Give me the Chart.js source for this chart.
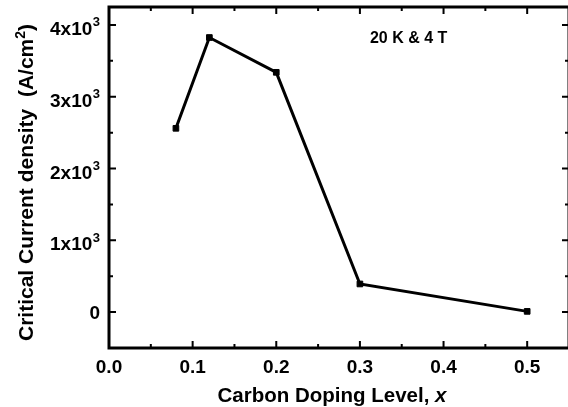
<!DOCTYPE html>
<html>
<head>
<meta charset="utf-8">
<script src="https://cdn.jsdelivr.net/npm/chart.js@4"></script>
<style>
    html, body { margin: 0; padding: 0; background: #fff; overflow: hidden; }
    #wrap { width: 574px; height: 407px; }
</style>
</head>
<body>
<div id="wrap"><canvas id="jcChart" width="574" height="407"></canvas></div>
<script>
// data
const dopingLevel = [0.08, 0.12, 0.2, 0.3, 0.5];
const currentDensity = [2560, 3825, 3340, 392, 10];

// axis ticks
const xTicks = [0.0, 0.1, 0.2, 0.3, 0.4, 0.5];
const xTickLabels = ["0.0", "0.1", "0.2", "0.3", "0.4", "0.5"];
const yTicks = [0, 1000, 2000, 3000, 4000];
const yTickLabels = [["0", ""], ["1x10", "3"], ["2x10", "3"], ["3x10", "3"], ["4x10", "3"]];

const FONT = "'Liberation Sans', Arial, Helvetica, sans-serif";

// draws frame, inward ticks (major + minor) and all the text
const framePlugin = {
    id: "frame",
    afterDraw(chart) {
        const ctx = chart.ctx;
        const { left, right, top, bottom } = chart.chartArea;
        const xs = chart.scales.x;
        const ys = chart.scales.y;
        ctx.save();
        ctx.strokeStyle = "#000";
        ctx.fillStyle = "#000";

        // ticks
        ctx.lineWidth = 2;
        const major = 7, minor = 4;
        ctx.beginPath();
        xTicks.forEach((v, i) => {
            const px = xs.getPixelForValue(v);
            ctx.moveTo(px, bottom); ctx.lineTo(px, bottom - major);
            ctx.moveTo(px, top); ctx.lineTo(px, top + major);
            if (i < xTicks.length - 1) {
                const m = xs.getPixelForValue((v + xTicks[i + 1]) / 2);
                ctx.moveTo(m, bottom); ctx.lineTo(m, bottom - minor);
                ctx.moveTo(m, top); ctx.lineTo(m, top + minor);
            }
        });
        yTicks.forEach((v, i) => {
            const py = ys.getPixelForValue(v);
            ctx.moveTo(left, py); ctx.lineTo(left + major, py);
            ctx.moveTo(right, py); ctx.lineTo(right - major, py);
            if (i < yTicks.length - 1) {
                const m = ys.getPixelForValue((v + yTicks[i + 1]) / 2);
                ctx.moveTo(left, m); ctx.lineTo(left + minor, m);
                ctx.moveTo(right, m); ctx.lineTo(right - minor, m);
            }
        });
        ctx.stroke();

        // frame
        ctx.lineWidth = 3;
        ctx.strokeRect(left, top, right - left, bottom - top);

        // x tick labels
        ctx.font = "bold 19px " + FONT;
        ctx.textAlign = "center";
        ctx.textBaseline = "alphabetic";
        xTicks.forEach((v, i) => {
            ctx.fillText(xTickLabels[i], xs.getPixelForValue(v), bottom + 25);
        });

        // y tick labels with superscript
        ctx.textAlign = "left";
        yTicks.forEach((v, i) => {
            const py = ys.getPixelForValue(v);
            const [base, sup] = yTickLabels[i];
            ctx.font = "bold 13px " + FONT;
            const supW = sup ? ctx.measureText(sup).width : 0;
            ctx.font = "bold 19px " + FONT;
            const baseW = ctx.measureText(base).width;
            const xEnd = left - 9;
            const baseline = sup ? py + 10 : py + 6.5;
            ctx.fillText(base, xEnd - supW - baseW - (sup ? 0.5 : 0), baseline);
            if (sup) {
                ctx.font = "bold 13px " + FONT;
                ctx.fillText(sup, xEnd - supW, baseline - 8.5);
            }
        });

        // x axis title, "x" in italic
        const t1 = "Carbon Doping Level, ";
        const t2 = "x";
        ctx.font = "bold 20.5px " + FONT;
        const w1 = ctx.measureText(t1).width;
        ctx.font = "italic bold 20.5px " + FONT;
        const w2 = ctx.measureText(t2).width;
        const tx = (left + right) / 2 - 7 - (w1 + w2) / 2;
        ctx.font = "bold 20.5px " + FONT;
        ctx.fillText(t1, tx, 401.5);
        ctx.font = "italic bold 20.5px " + FONT;
        ctx.fillText(t2, tx + w1, 401.5);

        // y axis title, rotated, with superscript 2
        const a = "Critical Current density  (A/cm";
        const s = "2";
        const c = ")";
        ctx.save();
        ctx.translate(33, (top + bottom) / 2 + 5);
        ctx.rotate(-Math.PI / 2);
        ctx.font = "bold 21px " + FONT;
        const wa = ctx.measureText(a).width;
        const wc = ctx.measureText(c).width;
        ctx.font = "bold 14px " + FONT;
        const ws = ctx.measureText(s).width;
        let sx = -(wa + ws + wc) / 2;
        ctx.font = "bold 21px " + FONT;
        ctx.fillText(a, sx, 0);
        ctx.font = "bold 14px " + FONT;
        ctx.fillText(s, sx + wa, -8.5);
        ctx.font = "bold 21px " + FONT;
        ctx.fillText(c, sx + wa + ws, 0);
        ctx.restore();

        // annotation
        ctx.font = "bold 16px " + FONT;
        ctx.textAlign = "left";
        ctx.fillText("20 K & 4 T", xs.getPixelForValue(0.312), ys.getPixelForValue(3750));

        ctx.restore();
    }
};

const ctx = document.getElementById("jcChart").getContext("2d");
new Chart(ctx, {
    type: "line",
    data: {
        datasets: [{
            data: dopingLevel.map((x, i) => ({ x: x, y: currentDensity[i] })),
            borderColor: "#000",
            borderWidth: 3,
            backgroundColor: "#000",
            pointStyle: "rect",
            pointRadius: 4,
            pointBorderWidth: 1,
            pointBackgroundColor: "#000",
            pointBorderColor: "#000",
            tension: 0,
            fill: false
        }]
    },
    options: {
        responsive: false,
        animation: false,
        devicePixelRatio: 1,
        layout: { padding: { left: 0, right: 3, top: 7, bottom: 0 } },
        plugins: { legend: { display: false }, tooltip: { enabled: false } },
        scales: {
            x: {
                type: "linear",
                min: 0,
                max: 0.55,
                ticks: { display: false },
                grid: { display: false },
                border: { display: false },
                afterFit(scale) { scale.height = 59; }
            },
            y: {
                type: "linear",
                min: -500,
                max: 4250,
                ticks: { display: false },
                grid: { display: false },
                border: { display: false },
                afterFit(scale) { scale.width = 109; }
            }
        }
    },
    plugins: [framePlugin]
});
</script>
</body>
</html>
